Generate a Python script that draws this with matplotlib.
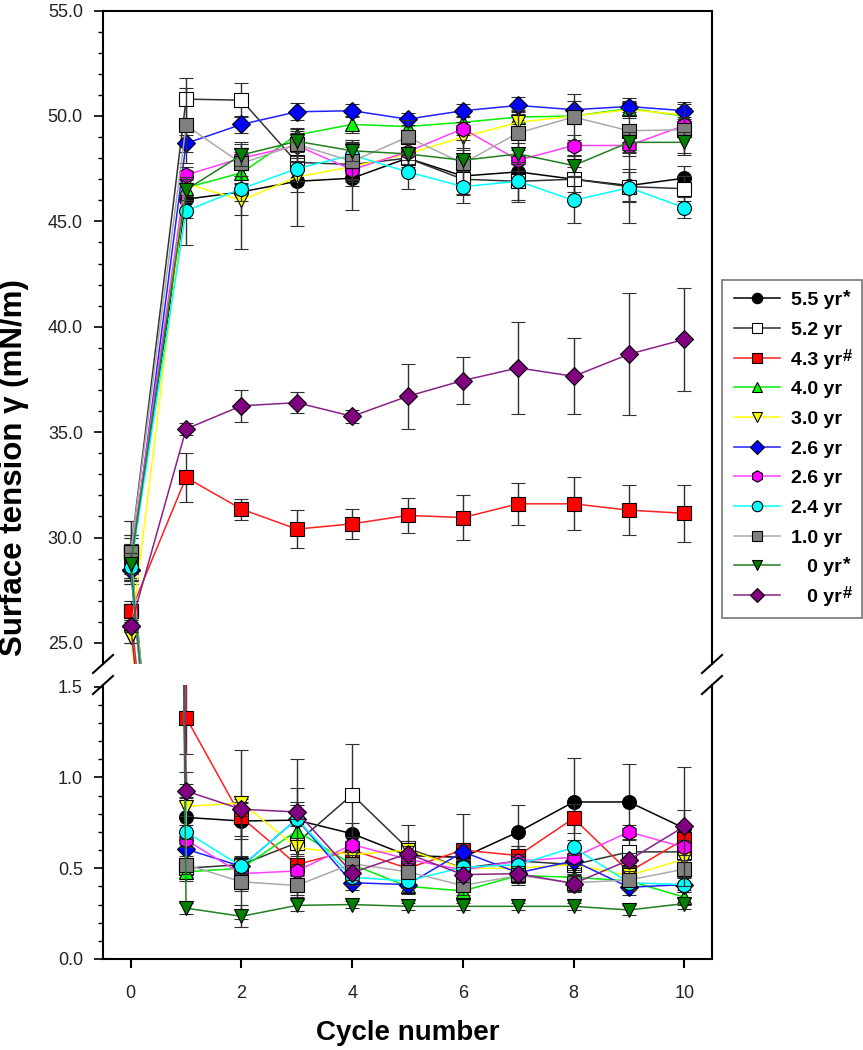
import matplotlib.pyplot as plt
from matplotlib.lines import Line2D
from matplotlib.ticker import FixedLocator, FormatStrFormatter

plt.rcParams['font.family'] = ['Liberation Sans', 'DejaVu Sans']

cycles = list(range(0, 11))

labels = ['5.5 yr', '5.2 yr', '4.3 yr', '4.0 yr', '3.0 yr', '2.6 yr',
          '2.6 yr', '2.4 yr', '1.0 yr', '   0 yr', '   0 yr']
label_marks = ['*', '', '#', '', '', '', '', '', '', '*', '#']

# upper curves: cycle 0 = adsorption value, cycles 1-10 = gamma max
# lower curves: gamma min for cycles 1-10 (joined to the cycle 0 value)
max_55 = [29.0, 46.05, 46.4, 46.9, 47.05, 48.0, 47.15, 47.35, 47.0, 46.7, 47.05]
max_55_err = [1.0, 0.9, 1.1, 2.1, 1.5, 0.5, 0.9, 0.7, 0.6, 0.8, 0.6]
min_55 = [0.78, 0.76, 0.765, 0.69, 0.57, 0.56, 0.70, 0.865, 0.865, 0.72]
min_55_err = [0.25, 0.1, 0.1, 0.06, 0.06, 0.06, 0.15, 0.24, 0.21, 0.1]

max_52 = [29.3, 50.8, 50.75, 47.8, 47.7, 48.0, 47.0, 46.9, 47.0, 46.65, 46.55]
max_52_err = [1.5, 1.0, 0.8, 0.9, 1.0, 0.5, 0.7, 1.0, 1.1, 0.7, 0.6]
min_52 = [0.50, 0.52, 0.64, 0.905, 0.61, 0.50, 0.54, 0.52, 0.59, 0.59]
min_52_err = [0.05, 0.3, 0.3, 0.28, 0.13, 0.1, 0.08, 0.06, 0.1, 0.1]

max_43 = [26.5, 32.85, 31.35, 30.4, 30.65, 31.05, 30.95, 31.6, 31.6, 31.3, 31.15]
max_43_err = [0.5, 1.15, 0.5, 0.9, 0.7, 0.85, 1.05, 1.0, 1.25, 1.2, 1.35]
min_43 = [1.33, 0.78, 0.52, 0.60, 0.50, 0.60, 0.57, 0.775, 0.48, 0.66]
min_43_err = [0.2, 0.1, 0.06, 0.05, 0.05, 0.2, 0.05, 0.08, 0.05, 0.06]

max_40 = [28.9, 46.6, 47.3, 49.1, 49.6, 49.5, 49.7, 49.95, 50.0, 50.35, 50.0]
max_40_err = [0.8, 0.7, 0.5, 0.3, 0.4, 0.4, 0.3, 0.3, 0.3, 0.3, 0.3]
min_40 = [0.48, 0.50, 0.705, 0.52, 0.40, 0.375, 0.46, 0.45, 0.43, 0.34]
min_40_err = [0.05, 0.05, 0.05, 0.05, 0.04, 0.04, 0.04, 0.04, 0.04, 0.04]

max_30 = [25.3, 46.8, 46.0, 47.1, 47.6, 48.2, 49.0, 49.7, 50.0, 50.3, 50.05]
max_30_err = [0.3, 0.6, 2.3, 0.7, 0.6, 0.6, 0.5, 0.5, 0.4, 0.4, 0.3]
min_30 = [0.84, 0.86, 0.615, 0.575, 0.60, 0.50, 0.50, 0.52, 0.46, 0.55]
min_30_err = [0.05, 0.29, 0.05, 0.05, 0.05, 0.05, 0.05, 0.05, 0.05, 0.05]

max_26a = [28.45, 48.7, 49.6, 50.2, 50.25, 49.85, 50.25, 50.5, 50.3, 50.45, 50.25]
max_26a_err = [0.5, 0.4, 0.4, 0.4, 0.3, 0.3, 0.3, 0.4, 0.4, 0.4, 0.4]
min_26a = [0.605, 0.51, 0.77, 0.42, 0.41, 0.59, 0.475, 0.54, 0.395, 0.41]
min_26a_err = [0.05, 0.05, 0.33, 0.04, 0.04, 0.04, 0.04, 0.04, 0.04, 0.04]

max_26b = [28.95, 47.2, 48.0, 48.6, 47.45, 48.3, 49.4, 47.9, 48.6, 48.6, 49.55]
max_26b_err = [0.5, 0.4, 0.5, 0.6, 0.5, 0.4, 0.3, 0.5, 0.5, 0.5, 0.4]
min_26b = [0.655, 0.47, 0.485, 0.63, 0.55, 0.49, 0.54, 0.56, 0.70, 0.615]
min_26b_err = [0.04, 0.04, 0.04, 0.04, 0.04, 0.04, 0.04, 0.04, 0.04, 0.04]

max_24 = [28.6, 45.5, 46.55, 47.5, 48.15, 47.35, 46.65, 46.9, 46.0, 46.6, 45.65]
max_24_err = [0.6, 1.6, 0.6, 0.6, 0.6, 0.8, 0.8, 0.9, 1.1, 1.7, 0.5]
min_24 = [0.70, 0.51, 0.77, 0.45, 0.43, 0.505, 0.52, 0.615, 0.42, 0.41]
min_24_err = [0.04, 0.04, 0.04, 0.04, 0.04, 0.04, 0.04, 0.04, 0.04, 0.04]

max_10 = [29.3, 49.55, 47.75, 48.65, 47.85, 49.0, 47.75, 49.2, 49.95, 49.3, 49.35]
max_10_err = [0.8, 1.8, 1.0, 0.8, 1.0, 0.8, 1.1, 1.1, 1.1, 0.9, 1.2]
min_10 = [0.52, 0.425, 0.405, 0.525, 0.48, 0.405, 0.46, 0.42, 0.435, 0.495]
min_10_err = [0.05, 0.05, 0.05, 0.05, 0.05, 0.05, 0.05, 0.05, 0.05, 0.05]

max_0a = [28.75, 46.5, 48.15, 48.8, 48.35, 48.2, 47.9, 48.2, 47.65, 48.75, 48.75]
max_0a_err = [0.5, 0.5, 0.5, 0.5, 0.5, 0.5, 0.5, 0.5, 0.5, 0.5, 0.5]
min_0a = [0.28, 0.235, 0.295, 0.30, 0.29, 0.29, 0.29, 0.29, 0.27, 0.305]
min_0a_err = [0.03, 0.06, 0.03, 0.02, 0.02, 0.02, 0.02, 0.02, 0.03, 0.03]

max_0b = [25.8, 35.15, 36.25, 36.4, 35.75, 36.7, 37.45, 38.05, 37.65, 38.7, 39.4]
max_0b_err = [0.3, 0.3, 0.75, 0.5, 0.3, 1.55, 1.1, 2.2, 1.8, 2.9, 2.45]
min_0b = [0.925, 0.825, 0.81, 0.475, 0.58, 0.465, 0.47, 0.415, 0.545, 0.73]
min_0b_err = [0.04, 0.04, 0.04, 0.04, 0.04, 0.04, 0.04, 0.04, 0.04, 0.33]

series = [
    (max_55, max_55_err, min_55, min_55_err),
    (max_52, max_52_err, min_52, min_52_err),
    (max_43, max_43_err, min_43, min_43_err),
    (max_40, max_40_err, min_40, min_40_err),
    (max_30, max_30_err, min_30, min_30_err),
    (max_26a, max_26a_err, min_26a, min_26a_err),
    (max_26b, max_26b_err, min_26b, min_26b_err),
    (max_24, max_24_err, min_24, min_24_err),
    (max_10, max_10_err, min_10, min_10_err),
    (max_0a, max_0a_err, min_0a, min_0a_err),
    (max_0b, max_0b_err, min_0b, min_0b_err),
]

markers = ['o', 's', 's', '^', 'v', 'D', 'h', 'o', 's', 'v', 'D']
face_colors = ['black', 'white', '#FF0000', '#00FF00', '#FFFF00', '#0000FF',
               '#FF00FF', '#00FFFF', '#808080', '#007F00', '#800080']
line_colors = ['black', '#333333', '#FF2020', '#00EE00', '#FFFF00', '#2020FF',
               '#FF40FF', '#00FFFF', '#AAAAAA', '#208020', '#8A208A']
sizes = [10, 10, 10, 10, 10, 9, 11, 10, 10, 10, 9]

fig = plt.figure(figsize=(8.63, 10.5), dpi=100)
ax_top = fig.add_axes([0.1194, 0.3676, 0.7057, 0.6223])
ax_bot = fig.add_axes([0.1194, 0.0867, 0.7057, 0.2610])

for i, (gmax, gmax_err, gmin, gmin_err) in enumerate(series):
    low = [gmax[0]] + gmin
    low_err = [gmax_err[0]] + gmin_err
    for ax in (ax_top, ax_bot):
        for yv, ye in ((gmax, gmax_err), (low, low_err)):
            ax.errorbar(cycles, yv, yerr=ye, color=line_colors[i], lw=1.1,
                        marker=markers[i], ms=sizes[i], mfc=face_colors[i],
                        mec='black', mew=0.8, ecolor='#303030', elinewidth=1,
                        capsize=5, capthick=1.2, zorder=3 + i * 0.1)

ax_top.set_ylim(24.0, 55)
ax_top.set_yticks([25, 30, 35, 40, 45, 50, 55])
ax_top.yaxis.set_minor_locator(FixedLocator([v for v in range(26, 55) if v % 5]))
ax_top.yaxis.set_major_formatter(FormatStrFormatter('%.1f'))
ax_top.spines['bottom'].set_visible(False)
ax_top.tick_params(axis='x', bottom=False, labelbottom=False)

ax_bot.set_ylim(0, 1.51)
ax_bot.set_yticks([0, 0.5, 1.0, 1.5])
ax_bot.yaxis.set_minor_locator(FixedLocator([0.1, 0.2, 0.3, 0.4, 0.6, 0.7, 0.8, 0.9, 1.1, 1.2, 1.3, 1.4]))
ax_bot.yaxis.set_major_formatter(FormatStrFormatter('%.1f'))
ax_bot.spines['top'].set_visible(False)
ax_bot.set_xticks([0, 2, 4, 6, 8, 10])

for ax in (ax_top, ax_bot):
    ax.set_xlim(-0.5, 10.5)
    for s in ax.spines.values():
        s.set_linewidth(1.5)
    ax.tick_params(axis='y', which='major', direction='out', length=6.5, width=1.2,
                   labelsize=13, pad=8, colors='black', labelcolor='#222222')
    ax.tick_params(axis='y', which='minor', direction='out', length=3.6, width=1.0)
    ax.tick_params(axis='x', which='major', direction='out', length=6.5, width=1.5,
                   labelsize=13, pad=12, labelcolor='#222222')

# axis break marks
W, H = 863.0, 1050.0
for px in (103, 712):
    for py in (664, 685):
        fig.add_artist(Line2D([(px - 10) / W, (px + 10) / W],
                              [1 - (py + 9) / H, 1 - (py - 9) / H],
                              color='black', lw=1.5))

fig.text(14 / W, 1 - 468 / H, 'Surface tension \u03b3 (mN/m)', rotation=90,
         fontsize=22.5, fontweight='bold', ha='center', va='center')
fig.text(0.4722, 1 - 1033 / H, 'Cycle number', fontsize=20, fontweight='bold',
         ha='center', va='center')

handles = [Line2D([], [], color=line_colors[i], lw=1.1, marker=markers[i],
                  ms=sizes[i] * 0.75, mfc=face_colors[i], mec='black', mew=0.8)
           for i in range(len(labels))]
leg = fig.legend(handles, labels, loc='upper left',
                 bbox_to_anchor=(722 / W, 1 - 645 / H, 140 / W, 365 / H), mode='expand',
                 borderaxespad=0, frameon=True, fancybox=False, edgecolor='#555555',
                 prop={'weight': 'bold', 'size': 14}, handlelength=2.4,
                 handletextpad=0.55, labelspacing=0.62, borderpad=0.6)
leg.get_frame().set_linewidth(1.2)

# superscript marks after the legend labels
fig.canvas.draw()
inv = fig.transFigure.inverted()
for txt, mark in zip(leg.get_texts(), label_marks):
    if not mark:
        continue
    bb = txt.get_window_extent()
    x0, y0 = inv.transform((bb.x1 + 1, bb.y1 + 3))
    fig.text(x0, y0, mark, fontsize=14 if mark == '*' else 12, fontweight='bold',
             ha='left', va='top', zorder=20)

fig.savefig('out.png', dpi=100)
